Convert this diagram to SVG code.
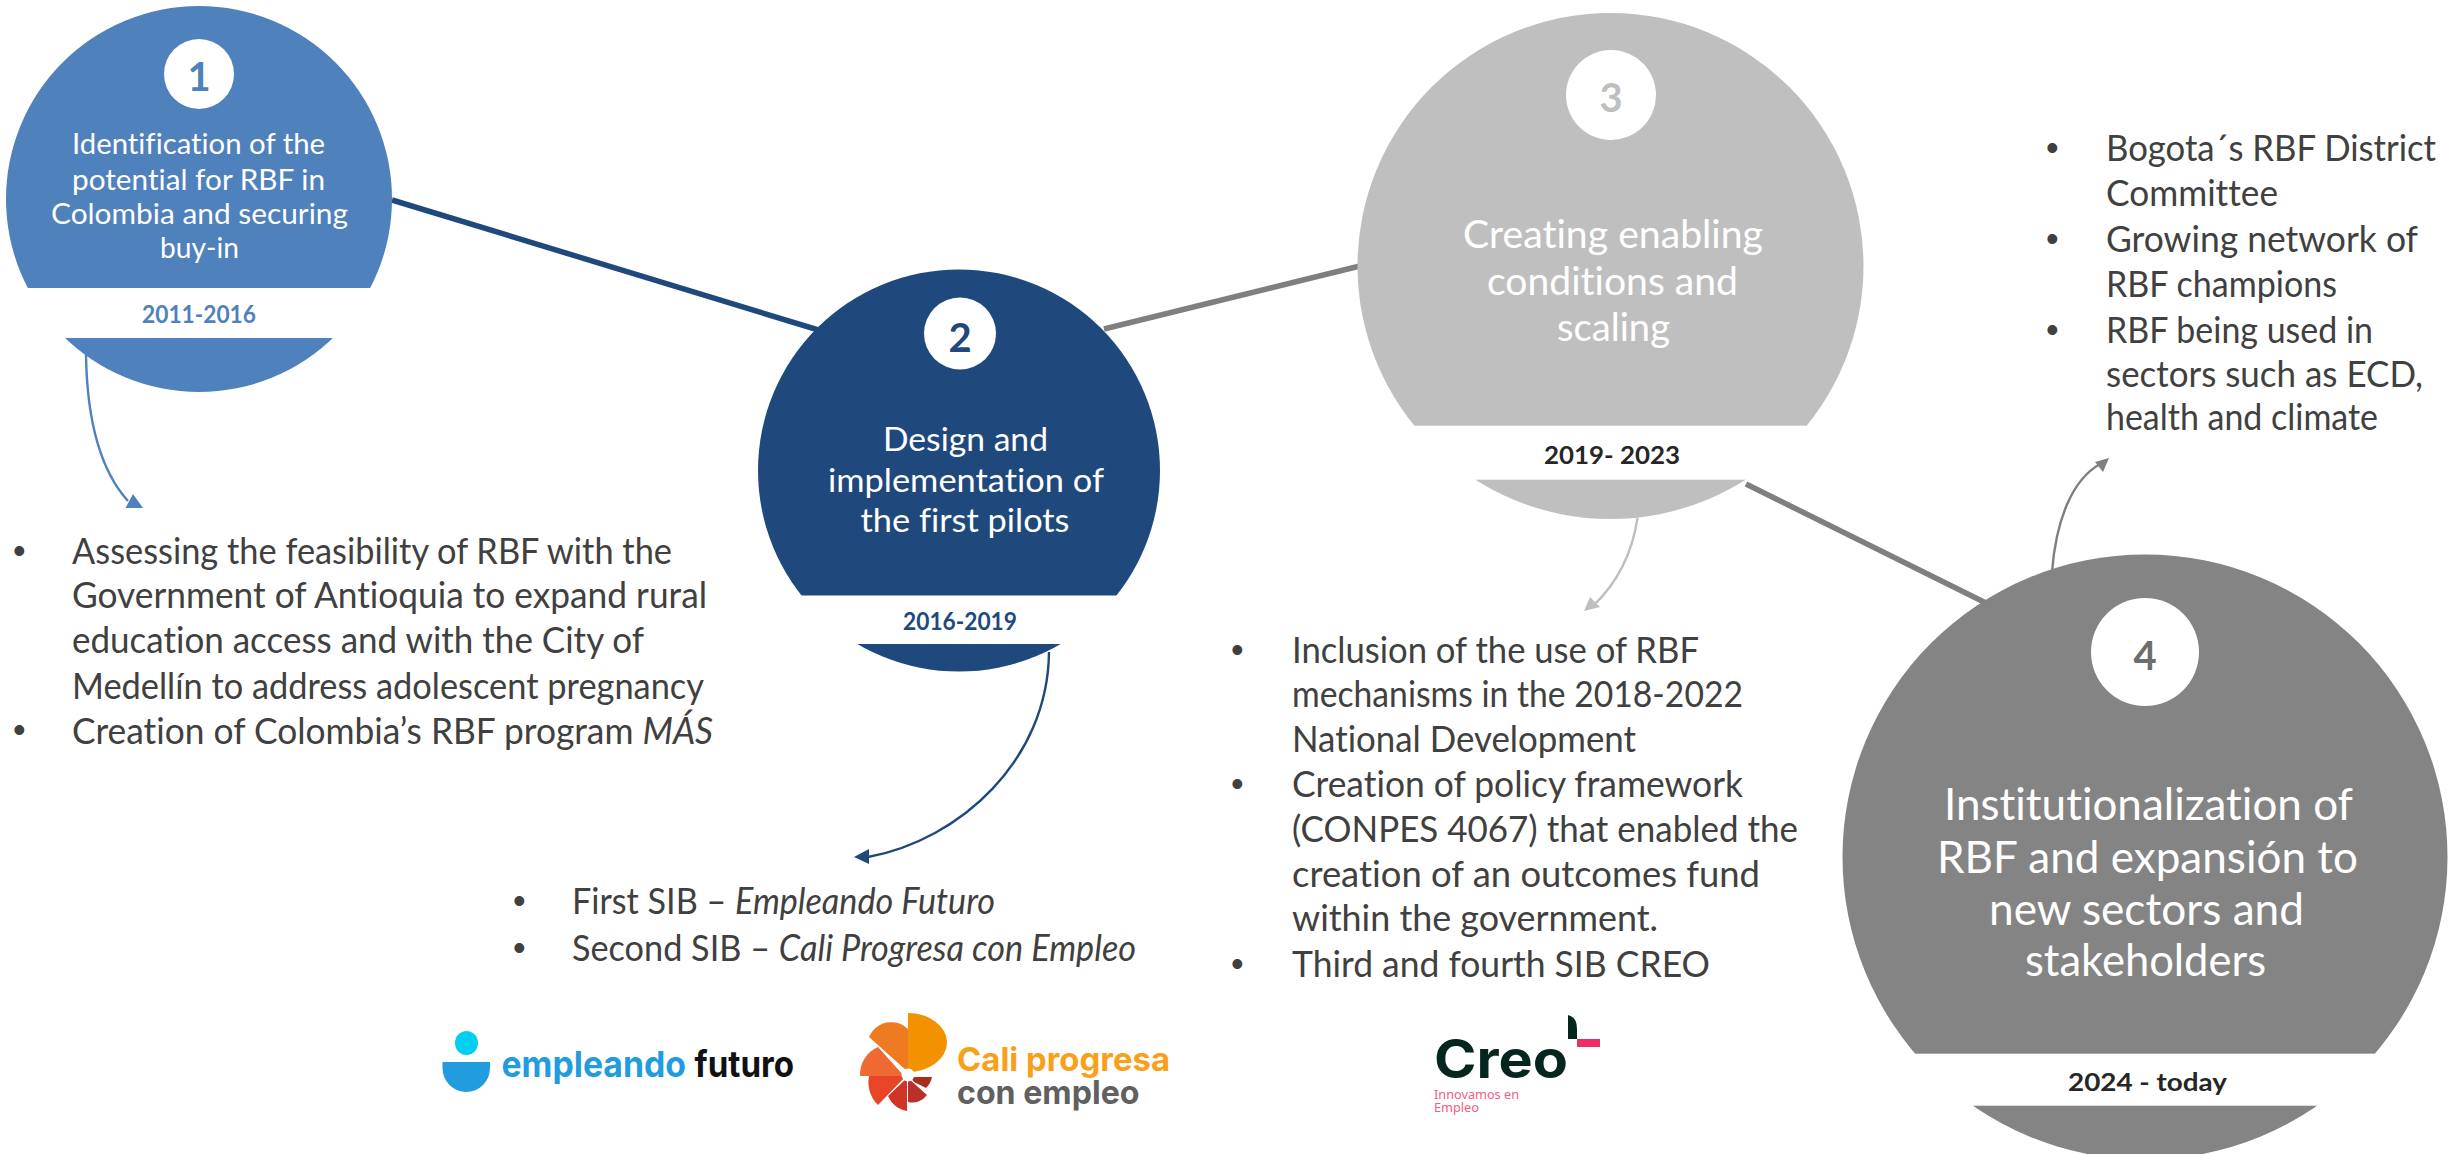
<svg xmlns="http://www.w3.org/2000/svg" width="2464" height="1154" viewBox="0 0 2464 1154">
<style>
text{font-family:"Lato","Open Sans","Liberation Sans",sans-serif;font-variant-ligatures:none}
.t{fill:#fff;text-anchor:start}
.b{fill:#404040;font-size:36px}
.d{fill:#404040;font-size:36px;font-family:"Liberation Sans",sans-serif}
.y{font-weight:700;font-size:24px}
.n{font-weight:700;font-size:40px;text-anchor:middle}
.l{fill:none;stroke-width:5.5}
.a{fill:none;stroke-width:2.4}
.logo{font-family:"Inter","Liberation Sans",sans-serif;font-weight:700}
</style>
<rect width="2464" height="1154" fill="#fff"/>
<g id="connectors">
<line class="l" x1="392" y1="200" x2="825" y2="332" stroke="#1f497d"/>
<line class="l" x1="1104" y1="329" x2="1362" y2="265.5" stroke="#7f7f7f"/>
<line class="l" x1="1746" y1="484" x2="1990" y2="605" stroke="#7f7f7f"/>
<path class="a" d="M86,355 C87,420 100,470 128,501" stroke="#4f81bd"/>
<polygon points="133,494 143,508 125.5,508" fill="#4f81bd"/>
<path class="a" d="M1049,652 C1048,760 960,840 868,857" stroke="#1f497d"/>
<polygon points="854,857 869,849 869,864" fill="#1f497d"/>
<path class="a" d="M1637.5,518 C1632,555 1615,585 1593,606" stroke="#bfbfbf"/>
<polygon points="1584,611 1590,597 1600,607" fill="#bfbfbf"/>
<path class="a" d="M2052,572 C2056,520 2072,480 2100,464" stroke="#7f7f7f"/>
<polygon points="2109,458 2095,462 2103,472" fill="#7f7f7f"/>
</g>
<g id="node-1">
<circle cx="199" cy="199" r="193" fill="#4f81bd"/>
<rect x="0" y="288" width="400" height="50" fill="#fff"/>
<circle cx="199" cy="74" r="35" fill="#fff"/>
<text class="n" x="199" y="91" fill="#4f81bd">1</text>
<g font-size="28">
<text class="t" x="72" y="154" textLength="253" lengthAdjust="spacingAndGlyphs">Identification of the</text>
<text class="t" x="72" y="190" textLength="253" lengthAdjust="spacingAndGlyphs">potential for RBF in</text>
<text class="t" x="51" y="224" textLength="297" lengthAdjust="spacingAndGlyphs">Colombia and securing</text>
<text class="t" x="160" y="258" textLength="79" lengthAdjust="spacingAndGlyphs">buy-in</text>
</g>
<text class="y" x="142" y="323" fill="#4f81bd" textLength="114" lengthAdjust="spacingAndGlyphs">2011-2016</text>
</g>
<g id="node-2">
<circle cx="959" cy="470.5" r="201" fill="#1f497d"/>
<rect x="740" y="595.5" width="440" height="48.5" fill="#fff"/>
<circle cx="960" cy="333.5" r="36" fill="#fff"/>
<text class="n" x="960" y="352" fill="#1f497d">2</text>
<g font-size="33">
<text class="t" x="883" y="451" textLength="165" lengthAdjust="spacingAndGlyphs">Design and</text>
<text class="t" x="828" y="491.5" textLength="276" lengthAdjust="spacingAndGlyphs">implementation of</text>
<text class="t" x="860.5" y="531.5" textLength="209" lengthAdjust="spacingAndGlyphs">the first pilots</text>
</g>
<text class="y" x="903" y="630" fill="#1f497d" textLength="114" lengthAdjust="spacingAndGlyphs">2016-2019</text>
</g>
<g id="node-3">
<circle cx="1610.5" cy="266" r="253" fill="#bfbfbf"/>
<rect x="1340" y="425.7" width="540" height="54" fill="#fff"/>
<circle cx="1611" cy="95" r="45" fill="#fff"/>
<text class="n" x="1611" y="112" fill="#bfbfbf">3</text>
<g font-size="38">
<text class="t" x="1463" y="248" textLength="300" lengthAdjust="spacingAndGlyphs">Creating enabling</text>
<text class="t" x="1487" y="295" textLength="251" lengthAdjust="spacingAndGlyphs">conditions and</text>
<text class="t" x="1557" y="341" textLength="113" lengthAdjust="spacingAndGlyphs">scaling</text>
</g>
<text class="y" x="1544" y="464" fill="#262626" textLength="136" lengthAdjust="spacingAndGlyphs">2019- 2023</text>
</g>
<g id="node-4">
<circle cx="2145" cy="857" r="302.5" fill="#848484"/>
<rect x="1820" y="1053.7" width="644" height="52" fill="#fff"/>
<circle cx="2145" cy="652" r="54" fill="#fff"/>
<text class="n" x="2145" y="670" fill="#6d6d6d">4</text>
<g font-size="44">
<text class="t" x="1944" y="820" textLength="409" lengthAdjust="spacingAndGlyphs">Institutionalization of</text>
<text class="t" x="1937" y="873" textLength="421" lengthAdjust="spacingAndGlyphs">RBF and expansión to</text>
<text class="t" x="1989" y="925" textLength="315" lengthAdjust="spacingAndGlyphs">new sectors and</text>
<text class="t" x="2025" y="976" textLength="241" lengthAdjust="spacingAndGlyphs">stakeholders</text>
</g>
<text class="y" x="2068" y="1091" fill="#262626" textLength="159" lengthAdjust="spacingAndGlyphs">2024 - today</text>
</g>
<g id="list-1">
<text class="d" x="13" y="563">•</text>
<text class="b" x="72" y="564" textLength="600" lengthAdjust="spacingAndGlyphs">Assessing the feasibility of RBF with the</text>
<text class="b" x="72" y="608" textLength="635" lengthAdjust="spacingAndGlyphs">Government of Antioquia to expand rural</text>
<text class="b" x="72" y="653" textLength="572" lengthAdjust="spacingAndGlyphs">education access and with the City of</text>
<text class="b" x="72" y="698.5" textLength="632" lengthAdjust="spacingAndGlyphs">Medellín to address adolescent pregnancy</text>
<text class="d" x="13" y="742">•</text>
<text class="b" x="72" y="743.5" textLength="641" lengthAdjust="spacingAndGlyphs">Creation of Colombia’s RBF program <tspan font-style="italic">MÁS</tspan></text>
</g>
<g id="list-2">
<text class="d" x="513" y="913">•</text>
<text class="b" x="572" y="914" textLength="423" lengthAdjust="spacingAndGlyphs">First SIB – <tspan font-style="italic">Empleando Futuro</tspan></text>
<text class="d" x="513" y="960">•</text>
<text class="b" x="572" y="961" textLength="564" lengthAdjust="spacingAndGlyphs">Second SIB – <tspan font-style="italic">Cali Progresa con Empleo</tspan></text>
</g>
<g id="list-3">
<text class="d" x="1231" y="662">•</text>
<text class="b" x="1292" y="663" textLength="407" lengthAdjust="spacingAndGlyphs">Inclusion of the use of RBF</text>
<text class="b" x="1292" y="707" textLength="451" lengthAdjust="spacingAndGlyphs">mechanisms in the 2018-2022</text>
<text class="b" x="1292" y="752" textLength="344" lengthAdjust="spacingAndGlyphs">National Development</text>
<text class="d" x="1231" y="795.5">•</text>
<text class="b" x="1292" y="796.5" textLength="451" lengthAdjust="spacingAndGlyphs">Creation of policy framework</text>
<text class="b" x="1292" y="842" textLength="506" lengthAdjust="spacingAndGlyphs">(CONPES 4067) that enabled the</text>
<text class="b" x="1292" y="886.5" textLength="468" lengthAdjust="spacingAndGlyphs">creation of an outcomes fund</text>
<text class="b" x="1292" y="931" textLength="366" lengthAdjust="spacingAndGlyphs">within the government.</text>
<text class="d" x="1231" y="976">•</text>
<text class="b" x="1292" y="977" textLength="418" lengthAdjust="spacingAndGlyphs">Third and fourth SIB CREO</text>
</g>
<g id="list-4">
<text class="d" x="2046" y="160">•</text>
<text class="b" x="2106" y="161" textLength="330" lengthAdjust="spacingAndGlyphs">Bogota´s RBF District</text>
<text class="b" x="2106" y="206" textLength="172" lengthAdjust="spacingAndGlyphs">Committee</text>
<text class="d" x="2046" y="251">•</text>
<text class="b" x="2106" y="252" textLength="312" lengthAdjust="spacingAndGlyphs">Growing network of</text>
<text class="b" x="2106" y="297" textLength="231" lengthAdjust="spacingAndGlyphs">RBF champions</text>
<text class="d" x="2046" y="342">•</text>
<text class="b" x="2106" y="343" textLength="267" lengthAdjust="spacingAndGlyphs">RBF being used in</text>
<text class="b" x="2106" y="387" textLength="317" lengthAdjust="spacingAndGlyphs">sectors such as ECD,</text>
<text class="b" x="2106" y="430" textLength="272" lengthAdjust="spacingAndGlyphs">health and climate</text>
</g>
<g id="logo-empleando">
<ellipse cx="466.5" cy="1043" rx="11.5" ry="12" fill="#00cfef"/>
<path d="M442.5,1062H490V1068A23.75,24 0 0 1 442.5,1068Z" fill="#219ddf"/>
<text class="logo" x="501.5" y="1077" font-size="36" fill="#219ddf" textLength="184.5" lengthAdjust="spacingAndGlyphs">empleando</text>
<text class="logo" x="694.5" y="1077" font-size="36" fill="#111" textLength="99.5" lengthAdjust="spacingAndGlyphs">futuro</text>
</g>
<g id="logo-cali">
<path d="M908,1013A39,29.5 0 0 1 908,1072Z" fill="#f39200"/>
<path d="M908,1072L869,1037A24,24 0 0 1 908,1029Z" fill="#ee7b22"/>
<path d="M860,1076A30,30 0 0 1 878,1047L904,1076Z" fill="#ee6a32"/>
<path d="M906,1076H869A32,32 0 0 0 878,1105Z" fill="#e84427"/>
<path d="M907,1078L888,1096A24,24 0 0 0 907,1111Z" fill="#cf3427"/>
<path d="M908,1078V1102A18,18 0 0 0 927,1095Z" fill="#b9312a"/>
<path d="M910,1077H932A20,20 0 0 1 926,1088L914,1082Z" fill="#ab2c1d"/>
<circle cx="908" cy="1075" r="6.5" fill="#fff"/>
<text class="logo" x="957" y="1071" font-size="33" fill="#f9a01b" textLength="213" lengthAdjust="spacingAndGlyphs">Cali progresa</text>
<text class="logo" x="957" y="1104" font-size="33" fill="#606060" textLength="182.5" lengthAdjust="spacingAndGlyphs">con empleo</text>
</g>
<g id="logo-creo">
<text class="logo" x="1434" y="1078" font-size="53" fill="#04261f" textLength="134" lengthAdjust="spacingAndGlyphs">Creo</text>
<path d="M1568,1015Q1577,1017 1577,1029V1039H1568Z" fill="#04261f"/>
<rect x="1577" y="1039" width="23" height="8" fill="#f02d62"/>
<text x="1434" y="1098.7" font-size="13" fill="#ef5d84" textLength="85" lengthAdjust="spacingAndGlyphs" style="font-family:'Noto Sans',sans-serif">Innovamos en</text>
<text x="1434" y="1111.7" font-size="13" fill="#ef5d84" textLength="45" lengthAdjust="spacingAndGlyphs" style="font-family:'Noto Sans',sans-serif">Empleo</text>
</g>
</svg>
